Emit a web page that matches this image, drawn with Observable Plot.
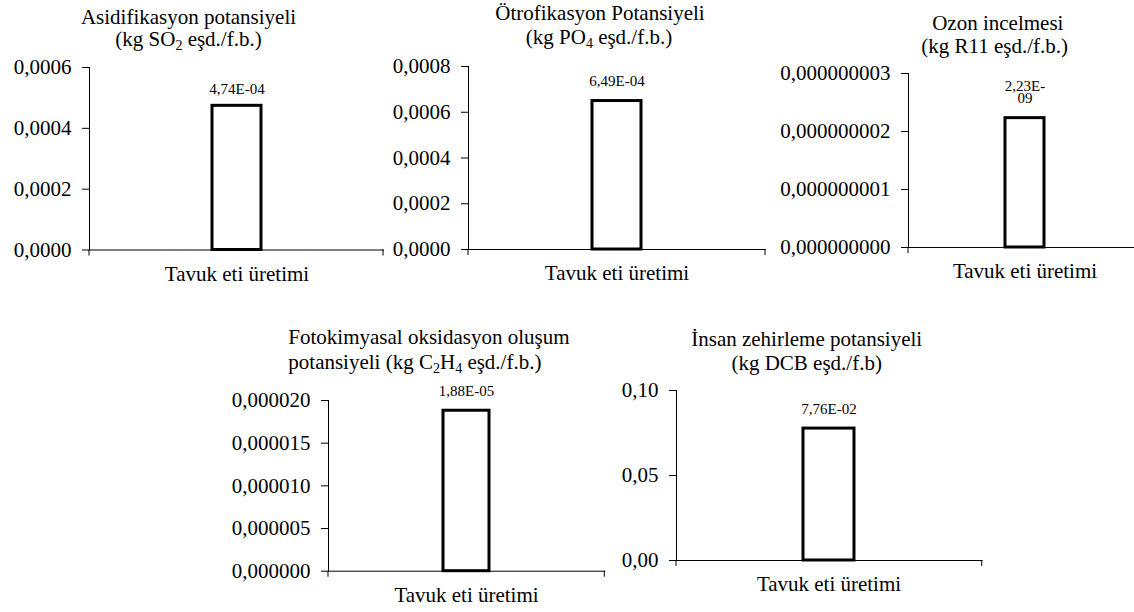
<!DOCTYPE html>
<html>
<head>
<meta charset="utf-8">
<script src="https://cdn.jsdelivr.net/npm/d3@7"></script>
<script src="https://cdn.jsdelivr.net/npm/@observablehq/plot@0.6"></script>
<style>
  html, body { margin: 0; padding: 0; background: #fff; overflow: hidden; }
  #root { position: relative; width: 1134px; height: 612px; overflow: hidden; font-family: "Times New Roman", "Liberation Serif", serif; color: #000; }
  .chart { position: absolute; }
  .tline { position: absolute; font-size: 21px; line-height: 21px; white-space: nowrap; }
  .tline sub { font-size: 14px; vertical-align: -4px; line-height: 0; }
</style>
</head>
<body>
<div id="root"></div>
<script>
// ---- data ----
const category = "Tavuk eti üretimi";
const titleLine1 = [
  "Asidifikasyon potansiyeli",
  "Ötrofikasyon Potansiyeli",
  "Ozon incelmesi",
  "Fotokimyasal oksidasyon oluşum",
  "İnsan zehirleme potansiyeli"
];
const titleLine2 = [
  "(kg SO<sub>2</sub> eşd./f.b.)",
  "(kg PO<sub>4</sub> eşd./f.b.)",
  "(kg R11 eşd./f.b.)",
  "potansiyeli (kg C<sub>2</sub>H<sub>4</sub> eşd./f.b.)",
  "(kg DCB eşd./f.b)"
];
const values = [0.000474, 0.000649, 2.23e-9, 0.0000188, 0.0776];
const valueLabels = ["4,74E-04", "6,49E-04", "2,23E-\n09", "1,88E-05", "7,76E-02"];
const yMax = [0.0006, 0.0008, 3e-9, 0.00002, 0.10];
const yTicks = [
  [0, 0.0002, 0.0004, 0.0006],
  [0, 0.0002, 0.0004, 0.0006, 0.0008],
  [0, 1e-9, 2e-9, 3e-9],
  [0, 0.000005, 0.00001, 0.000015, 0.00002],
  [0, 0.05, 0.10]
];
const tickDecimals = [4, 4, 9, 6, 2];

// ---- layout (page pixels) ----
const layout = [
  {left: 89,    right: 383,  top: 66.5,  bottom: 249,   cx: 188.5, cx2: 188.5, b1: 25,    b2: 47,    labelDy: -12, lh: 1},
  {left: 468,   right: 765,  top: 66,    bottom: 249,   cx: 600,   cx2: 599,   b1: 21,    b2: 44.5,  labelDy: -15, lh: 1},
  {left: 908.3, right: 1140, top: 72.7,  bottom: 246.7, cx: 997.8, cx2: 994.7, b1: 30.5,  b2: 54,    labelDy: -15.5, lh: 0.8},
  {left: 327.7, right: 604,  top: 400,   bottom: 570.7, leftAlign: 288.3,     b1: 345,   b2: 369.5, labelDy: -15, lh: 1},
  {left: 676,   right: 981.7,top: 390,   bottom: 560,   cx: 806.7, cx2: 806.7, b1: 346.7, b2: 371,   labelDy: -15, lh: 1}
];

const locale = d3.formatLocale({decimal: ",", thousands: ".", grouping: [3], currency: ["", ""]});
const root = document.getElementById("root");
const FONT = "'Times New Roman', 'Liberation Serif', serif";

function addTitleLine(html, baseline, L, second) {
  const d = document.createElement("div");
  d.className = "tline";
  d.innerHTML = html;
  d.style.top = (baseline - 17.6) + "px";
  if (L.leftAlign != null) {
    d.style.left = L.leftAlign + "px";
  } else {
    d.style.left = ((second ? L.cx2 : L.cx) - 250) + "px";
    d.style.width = "500px";
    d.style.textAlign = "center";
  }
  root.appendChild(d);
}

values.forEach((v, i) => {
  const L = layout[i];
  const mL = 140, mR = 4, mT = 10, mB = 45;
  const w = (L.right - L.left) + mL + mR;
  const h = (L.bottom - L.top) + mT + mB;
  const data = [{cat: category, v: v, label: valueLabels[i]}];
  const fmt = locale.format(`.${tickDecimals[i]}f`);
  const endTicks = (index, scales, vals, dim) => {
    const g = d3.create("svg:g");
    const y0 = dim.height - dim.marginBottom;
    for (const x of [dim.marginLeft, dim.width - dim.marginRight]) {
      g.append("line").attr("x1", x).attr("x2", x).attr("y1", y0).attr("y2", y0 + 6).attr("stroke", "black");
    }
    return g.node();
  };
  const svg = Plot.plot({
    width: w, height: h,
    marginLeft: mL, marginRight: mR, marginTop: mT, marginBottom: mB,
    style: {fontFamily: FONT, fontSize: "21px", color: "#000", background: "transparent", overflow: "visible", maxWidth: "none"},
    x: {type: "band", domain: [category], padding: 5 / 7},
    y: {domain: [0, yMax[i]]},
    marks: [
      Plot.barY(data, {x: "cat", y: "v", fill: "white", stroke: "black", strokeWidth: 3}),
      Plot.frame({anchor: "left", stroke: "black"}),
      Plot.frame({anchor: "bottom", stroke: "black"}),
      endTicks,
      Plot.axisY({ticks: yTicks[i], tickFormat: fmt, tickSize: 7, tickPadding: 11, fontSize: 21, stroke: "black", label: null}),
      Plot.axisX({tickSize: 0, tickPadding: 16, fontSize: 21, label: null}),
      Plot.text(data, {x: "cat", y: "v", text: "label", dy: L.labelDy, lineAnchor: "bottom", fontSize: 15, lineHeight: L.lh, fill: "black"})
    ]
  });
  const wrap = document.createElement("div");
  wrap.className = "chart";
  wrap.style.left = (L.left - mL) + "px";
  wrap.style.top = (L.top - mT) + "px";
  wrap.style.width = w + "px";
  wrap.appendChild(svg);
  root.appendChild(wrap);
  addTitleLine(titleLine1[i], L.b1, L, false);
  addTitleLine(titleLine2[i], L.b2, L, true);
});
</script>
</body>
</html>
